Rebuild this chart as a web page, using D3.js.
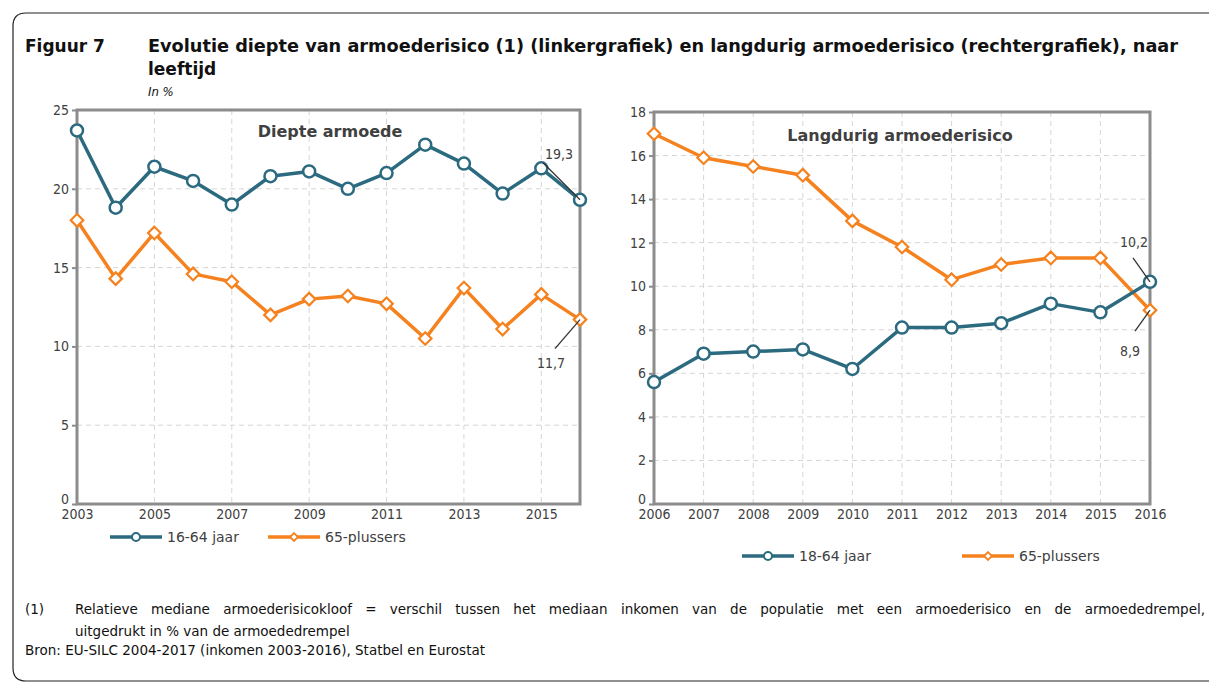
<!DOCTYPE html>
<html>
<head>
<meta charset="utf-8">
<script src="https://cdn.jsdelivr.net/npm/d3@7"></script>
<style>
  body { margin: 0; background: #fff; }
  svg { display: block; font-family: "DejaVu Sans", sans-serif; }
</style>
</head>
<body>
<svg id="chart" width="1209" height="682"></svg>
<script>
// data
const yearsLeft = [2003, 2004, 2005, 2006, 2007, 2008, 2009, 2010, 2011, 2012, 2013, 2014, 2015, 2016]
const diepte1664 = [23.7, 18.8, 21.4, 20.5, 19.0, 20.8, 21.1, 20.0, 21.0, 22.8, 21.6, 19.7, 21.3, 19.3]
const diepte65 = [18.0, 14.3, 17.2, 14.6, 14.1, 12.0, 13.0, 13.2, 12.7, 10.5, 13.7, 11.1, 13.3, 11.7]
const yearsRight = [2006, 2007, 2008, 2009, 2010, 2011, 2012, 2013, 2014, 2015, 2016]
const langdurig1864 = [5.6, 6.9, 7.0, 7.1, 6.2, 8.1, 8.1, 8.3, 9.2, 8.8, 10.2]
const langdurig65 = [17.0, 15.9, 15.5, 15.1, 13.0, 11.8, 10.3, 11.0, 11.3, 11.3, 8.9]
const ticksLeftX = [2003, 2005, 2007, 2009, 2011, 2013, 2015]
const ticksLeftY = [0, 5, 10, 15, 20, 25]
const ticksRightY = [0, 2, 4, 6, 8, 10, 12, 14, 16, 18]

const teal = '#2b6a7f', orange = '#f5821f', txt = '#404040', axisGrey = '#8c8c8c'
const svg = d3.select('#chart')

// frame
svg.append('path')
    .attr('d', 'M1215,13 L26,13 Q13,13 13,26 L13,668 Q13,681 26,681 L1215,681')
    .attr('fill', 'none').attr('stroke', '#222').attr('stroke-width', 1.2)

// title block
svg.append('text').attr('x', 25).attr('y', 52).attr('font-weight', 'bold').attr('font-size', 17)
    .attr('fill', '#111').text('Figuur 7')
svg.append('text').attr('x', 148).attr('y', 52).attr('font-weight', 'bold').attr('font-size', 17)
    .attr('fill', '#111').attr('textLength', 1030).attr('lengthAdjust', 'spacingAndGlyphs')
    .text('Evolutie diepte van armoederisico (1) (linkergrafiek) en langdurig armoederisico (rechtergrafiek), naar')
svg.append('text').attr('x', 148).attr('y', 75).attr('font-weight', 'bold').attr('font-size', 17)
    .attr('fill', '#111').text('leeftijd')
svg.append('text').attr('x', 148).attr('y', 96).attr('font-style', 'italic').attr('font-size', 13)
    .attr('font-family', '"DejaVu Sans Condensed", sans-serif')
    .attr('fill', '#111').text('In %')

const diamond = d3.symbol().type(d3.symbolDiamond2).size(100)

const drawPanel = (cfg) => {
    const x = d3.scaleLinear().domain(cfg.xDomain).range([cfg.left, cfg.right])
    const y = d3.scaleLinear().domain(cfg.yDomain).range([cfg.bottom, cfg.top])
    const g = svg.append('g')

    // grid
    g.append('g').selectAll('line').data(cfg.yTicks.slice(1, -1)).enter().append('line')
        .attr('x1', cfg.left).attr('x2', cfg.right)
        .attr('y1', d => y(d)).attr('y2', d => y(d))
        .attr('stroke', '#d6d6d6').attr('stroke-dasharray', '5,4')
    g.append('g').selectAll('line').data(cfg.xGrid).enter().append('line')
        .attr('x1', d => x(d)).attr('x2', d => x(d))
        .attr('y1', cfg.top).attr('y2', cfg.bottom)
        .attr('stroke', '#d6d6d6').attr('stroke-dasharray', '5,4')

    // axes
    const ax = g.append('g').attr('transform', `translate(${cfg.left},0)`)
        .call(d3.axisLeft(y).tickValues(cfg.yTicks).tickSize(5).tickPadding(3))
    ax.select('.domain').remove()
    ax.selectAll('line').attr('stroke', axisGrey).attr('stroke-width', 2)
    ax.selectAll('text').attr('fill', txt).attr('font-size', 14)
        .attr('font-family', '"DejaVu Sans Condensed", sans-serif')
        .attr('dy', d => d === 0 ? '-0.05em' : '0.32em')

    const bx = g.append('g').attr('transform', `translate(0,${cfg.bottom})`)
        .call(d3.axisBottom(x).tickValues(cfg.xTicks).tickSize(0).tickPadding(5).tickFormat(d3.format('d')))
    bx.select('.domain').remove()
    bx.selectAll('text').attr('fill', txt).attr('font-size', 14)
        .attr('font-family', '"DejaVu Sans Condensed", sans-serif')

    // plot border
    g.append('rect').attr('x', cfg.left).attr('y', cfg.top)
        .attr('width', cfg.right - cfg.left).attr('height', cfg.bottom - cfg.top)
        .attr('fill', 'none').attr('stroke', axisGrey).attr('stroke-width', 3)

    g.append('text').attr('x', cfg.titleX).attr('y', cfg.titleY).attr('text-anchor', 'middle')
        .attr('font-weight', 'bold').attr('font-size', 16).attr('fill', txt).text(cfg.title)

    const line = d3.line().x((d, i) => x(cfg.years[i])).y(d => y(d))
    cfg.series.forEach(s => {
        g.append('path').datum(s.values).attr('d', line)
            .attr('fill', 'none').attr('stroke', s.color).attr('stroke-width', 3.5)
            .attr('stroke-linejoin', 'round')
    })
    cfg.series.forEach(s => {
        const m = g.append('g').selectAll('m').data(s.values).enter()
        if (s.marker === 'circle') {
            m.append('circle').attr('cx', (d, i) => x(cfg.years[i])).attr('cy', d => y(d)).attr('r', 6)
                .attr('fill', '#fff').attr('stroke', s.color).attr('stroke-width', 2.5)
        } else {
            m.append('path').attr('d', diamond)
                .attr('transform', (d, i) => `translate(${x(cfg.years[i])},${y(d)})`)
                .attr('fill', '#fff').attr('stroke', s.color).attr('stroke-width', 2.2)
        }
    })

    // value labels on last point
    cfg.labels.forEach(l => {
        const px = x(l.year), py = y(l.value)
        g.append('line').attr('x1', px + l.lx).attr('y1', py + l.ly).attr('x2', px).attr('y2', py)
            .attr('stroke', '#333').attr('stroke-width', 1.3)
        g.append('text').attr('x', px + l.tx).attr('y', py + l.ty).attr('text-anchor', 'middle')
            .attr('font-size', 14).attr('fill', txt).attr('font-family', '"DejaVu Sans Condensed", sans-serif')
            .text(d3.format('.1f')(l.value).replace('.', ','))
    })

    // legend
    cfg.legend.forEach(l => {
        g.append('line').attr('x1', l.x).attr('x2', l.x + 52).attr('y1', l.y).attr('y2', l.y)
            .attr('stroke', l.color).attr('stroke-width', 3.5)
        if (l.marker === 'circle') {
            g.append('circle').attr('cx', l.x + 26).attr('cy', l.y).attr('r', 4)
                .attr('fill', '#fff').attr('stroke', l.color).attr('stroke-width', 2)
        } else {
            g.append('path').attr('d', d3.symbol().type(d3.symbolDiamond2).size(40))
                .attr('transform', `translate(${l.x + 26},${l.y})`)
                .attr('fill', '#fff').attr('stroke', l.color).attr('stroke-width', 1.8)
        }
        g.append('text').attr('x', l.x + 57).attr('y', l.y + 5).attr('font-size', 14)
            .attr('fill', txt).text(l.text)
    })
}

drawPanel({
    left: 77, right: 580, top: 110, bottom: 504,
    xDomain: [2003, 2016], yDomain: [0, 25],
    xTicks: ticksLeftX, xGrid: ticksLeftX.slice(1), yTicks: ticksLeftY,
    years: yearsLeft,
    title: 'Diepte armoede', titleX: 330, titleY: 137,
    series: [
        { values: diepte1664, color: teal, marker: 'circle' },
        { values: diepte65, color: orange, marker: 'diamond' }
    ],
    labels: [
        { year: 2016, value: 19.3, lx: -37, ly: -37, tx: -21, ty: -41 },
        { year: 2016, value: 11.7, lx: -25, ly: 29, tx: -29, ty: 48 }
    ],
    legend: [
        { x: 110, y: 537, color: teal, marker: 'circle', text: '16-64 jaar' },
        { x: 268, y: 537, color: orange, marker: 'diamond', text: '65-plussers' }
    ]
})

drawPanel({
    left: 654, right: 1150, top: 112, bottom: 504,
    xDomain: [2006, 2016], yDomain: [0, 18],
    xTicks: yearsRight, xGrid: yearsRight.slice(1, -1), yTicks: ticksRightY,
    years: yearsRight,
    title: 'Langdurig armoederisico', titleX: 900, titleY: 141,
    series: [
        { values: langdurig65, color: orange, marker: 'diamond' },
        { values: langdurig1864, color: teal, marker: 'circle' }
    ],
    labels: [
        { year: 2016, value: 10.2, lx: -17, ly: -24, tx: -16, ty: -35 },
        { year: 2016, value: 8.9, lx: -15, ly: 21, tx: -20, ty: 46 }
    ],
    legend: [
        { x: 742, y: 556, color: teal, marker: 'circle', text: '18-64 jaar' },
        { x: 962, y: 556, color: orange, marker: 'diamond', text: '65-plussers' }
    ]
})

// footnote, first line justified
const noteFont = 13.5
const justify = (words, x0, x1, yy) => {
    const tmp = words.map(w => svg.append('text').attr('font-size', noteFont).attr('fill', '#111').text(w))
    const widths = tmp.map(t => t.node().getComputedTextLength())
    const gap = (x1 - x0 - d3.sum(widths)) / (words.length - 1)
    let cx = x0
    tmp.forEach((t, i) => { t.attr('x', cx).attr('y', yy); cx += widths[i] + gap })
}
svg.append('text').attr('x', 25).attr('y', 614).attr('font-size', noteFont).attr('fill', '#111').text('(1)')
justify('Relatieve mediane armoederisicokloof = verschil tussen het mediaan inkomen van de populatie met een armoederisico en de armoededrempel,'.split(' '), 75, 1205, 614)
svg.append('text').attr('x', 75).attr('y', 636).attr('font-size', noteFont).attr('fill', '#111')
    .text('uitgedrukt in % van de armoededrempel')
svg.append('text').attr('x', 25).attr('y', 655).attr('font-size', noteFont).attr('fill', '#111')
    .text('Bron: EU-SILC 2004-2017 (inkomen 2003-2016), Statbel en Eurostat')
</script>
</body>
</html>
